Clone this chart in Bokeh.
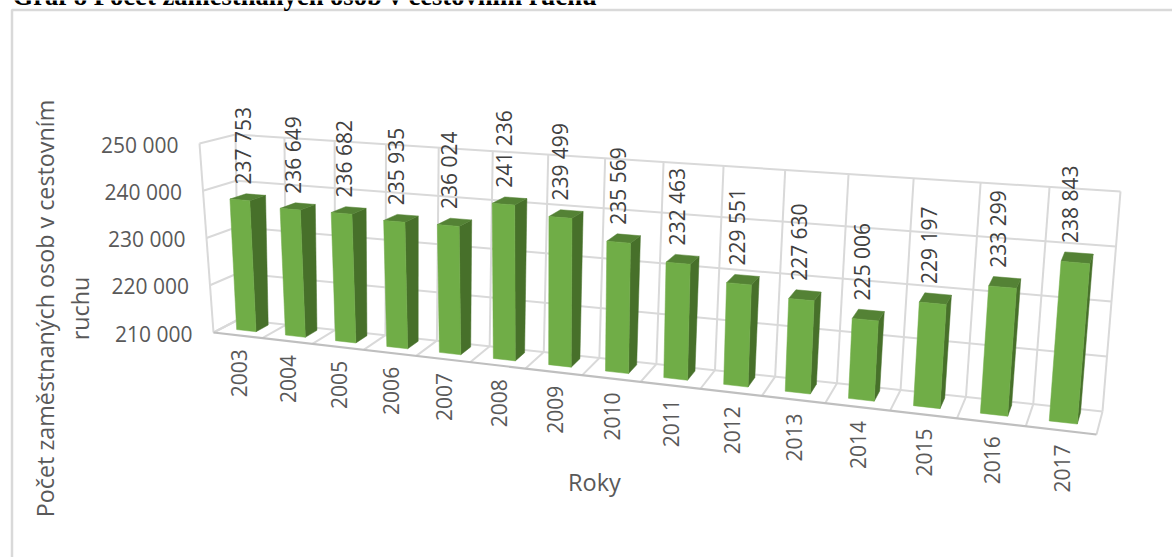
from math import pi
from bokeh.plotting import figure
from bokeh.models import Range1d
from bokeh.core.properties import value
from bokeh.embed import file_html
from bokeh.resources import INLINE

years = [2003, 2004, 2005, 2006, 2007, 2008, 2009, 2010, 2011, 2012, 2013, 2014, 2015, 2016, 2017]
employed = [237753, 236649, 236682, 235935, 236024, 241236, 239499, 235569, 232463, 229551, 227630, 225006, 229197, 233299, 238843]
y_ticks = [210000, 220000, 230000, 240000, 250000]
y_title = ["Počet zaměstnaných osob v cestovním", "ruchu"]
x_title = "Roky"
chart_title = "Graf 8 Počet zaměstnaných osob v cestovním ruchu"

# 3D frame corners on the page: (depth)(bottom/top)(left/right)
BACK = {"bl": (238, 319), "tl": (235, 134), "br": (1102, 411), "tr": (1120, 191)}
FRONT = {"bl": (213, 332), "tl": (199, 143), "br": (1096, 434), "tr": (1114, 209)}
PERSP = 1.22
Y_MIN, Y_MAX = y_ticks[0], y_ticks[-1]
N = len(years)
GRID = "#D9D9D9"
EDGE = "#BFBFBF"


def persp(u):
    return u / (u + PERSP * (1 - u))


def proj(u, v, w):
    s = persp(u)
    out = []
    for i in (0, 1):
        def plane(c):
            bottom = c["bl"][i] * (1 - s) + c["br"][i] * s
            top = c["tl"][i] * (1 - s) + c["tr"][i] * s
            return bottom * (1 - w) + top * w
        out.append(plane(FRONT) * (1 - v) + plane(BACK) * v)
    return out


def h(val):
    return (val - Y_MIN) / (Y_MAX - Y_MIN)


p = figure(width=1172, height=557, x_range=Range1d(0, 1172), y_range=Range1d(557, 0),
           x_axis_type=None, y_axis_type=None, toolbar_location=None,
           output_backend="svg", min_border=0, outline_line_color=None)
p.background_fill_color = "white"
p.border_fill_color = "white"


def seg(a, b, color=GRID, width=2):
    p.line([a[0], b[0]], [a[1], b[1]], line_color=color, line_width=width)


# outer chart frame
p.line([11.5, 11.5, 1172], [557, 9.5, 9.5], line_color="#D9D9D9", line_width=2.5)

# title, cut by the top of the picture
p.text(x=[12], y=[-5], text=[chart_title], text_font=value("Liberation Serif"), text_font_style="bold",
       text_font_size="26.6px", text_color="black", text_align="left", text_baseline="alphabetic")

# walls and floor
for t in y_ticks:
    w = h(t)
    seg(proj(0, 1, w), proj(1, 1, w))
    seg(proj(0, 0, w), proj(0, 1, w))
for k in range(N + 1):
    u = k / N
    seg(proj(u, 1, 0), proj(u, 1, 1))
    seg(proj(u, 0, 0), proj(u, 1, 0))
seg(proj(0, 0, 0), proj(0, 0, 1))
seg(proj(0, 0, 0), proj(1, 0, 0), EDGE, 2.2)

# bars
BAR_HALF = 0.2
V0, V1 = 0.35, 0.85
front_x, front_y, side_x, side_y, top_x, top_y = [], [], [], [], [], []
for i, val in enumerate(employed):
    u0 = (i + 0.5 - BAR_HALF) / N
    u1 = (i + 0.5 + BAR_HALF) / N
    w = h(val)
    for xs, ys, corners in (
        (front_x, front_y, [(u0, V0, 0), (u1, V0, 0), (u1, V0, w), (u0, V0, w)]),
        (side_x, side_y, [(u1, V0, 0), (u1, V1, 0), (u1, V1, w), (u1, V0, w)]),
        (top_x, top_y, [(u0, V0, w), (u1, V0, w), (u1, V1, w), (u0, V1, w)]),
    ):
        pts = [proj(*c) for c in corners]
        xs.append([q[0] for q in pts])
        ys.append([q[1] for q in pts])
p.patches(side_x, side_y, fill_color="#47702A", line_color="#47702A", line_width=0.5)
p.patches(top_x, top_y, fill_color="#548235", line_color="#548235", line_width=0.5)
p.patches(front_x, front_y, fill_color="#70AD47", line_color="#70AD47", line_width=0.5)

FONT = value("Open Sans")


def fmt(n):
    return f"{n:,}".replace(",", " ")


# data labels
lab_x, lab_y = [], []
for i, val in enumerate(employed):
    a = proj((i + 0.4) / N, (V0 + V1) / 2, h(val))
    b = proj((i + 0.5) / N, V1, h(val))
    lab_x.append(a[0])
    lab_y.append(b[1] - 10)
p.text(x=lab_x, y=lab_y, text=[fmt(v) for v in employed], angle=pi / 2, text_font=FONT,
       text_font_size="21px", text_color="#404040", text_align="left", text_baseline="middle")

# category labels
cat_x, cat_y = [], []
for i in range(N):
    a = proj((i + 0.5) / N, 0, 0)
    cat_x.append(a[0] + 1)
    cat_y.append(a[1] + 14)
p.text(x=cat_x, y=cat_y, text=[str(y) for y in years], angle=pi / 2, text_font=FONT,
       text_font_size="21px", text_color="#595959", text_align="right", text_baseline="middle")

# value-axis labels
tick_pts = [proj(0, 0, h(t)) for t in y_ticks]
p.text(x=[q[0] - 21 for q in tick_pts], y=[q[1] + 1 for q in tick_pts], text=[fmt(t) for t in y_ticks],
       text_font=FONT, text_font_size="21px", text_color="#595959", text_align="right", text_baseline="middle")

# axis titles
p.text(x=[44, 79], y=[308, 308], text=y_title, angle=pi / 2, text_font=FONT, text_font_size="23.3px",
       text_color="#595959", text_align="center", text_baseline="middle")
p.text(x=[594], y=[481], text=[x_title], text_font=FONT, text_font_size="23.5px",
       text_color="#595959", text_align="center", text_baseline="middle")

open("out.html", "w").write(file_html(p, INLINE))
